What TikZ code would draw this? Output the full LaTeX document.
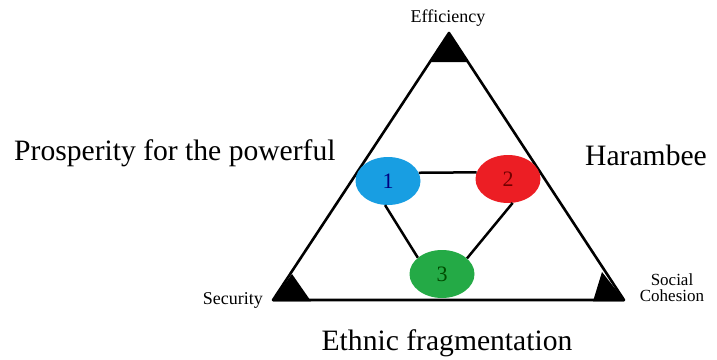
\documentclass[tikz,border=0pt]{standalone}
\usepackage{fontspec}
\setmainfont{Liberation Serif}
\usepackage{tikz}
\usetikzlibrary{shapes.geometric}
\definecolor{blobblue}{RGB}{24,158,226}
\definecolor{blobred}{RGB}{236,30,36}
\definecolor{blobgreen}{RGB}{36,170,70}

\begin{document}
\begin{tikzpicture}[x=1pt,y=-1pt,
  blob/.style={ellipse, minimum width=65pt, minimum height=48pt, inner sep=0pt, font=\fontsize{22}{24}\selectfont},
  corner/.style={font=\fontsize{18}{14}\selectfont, inner sep=0pt},
  big/.style={font=\fontsize{29.6}{32}\selectfont, inner sep=0pt}]
\useasboundingbox (0,0) rectangle (717,359);
% outer triangle
\coordinate (apex) at (449,33);
\coordinate (lft) at (273,300);
\coordinate (rgt) at (624,300);
\draw[line width=2.6pt, line join=round] (apex) -- (lft) -- (rgt) -- cycle;
\fill (apex) -- (430,62) -- (468,62) -- cycle;
\fill (lft) -- (292,274) -- (311,301.3) -- (273,301.3) -- cycle;
\fill (rgt) -- (602,272) -- (593,301.3) -- (624,301.3) -- cycle;
% labels at the corners
\node[corner, anchor=base] (eff) at (448,22) {Efficiency};
\node[corner, anchor=base east] (sec) at (263,304) {Security};
\node[corner, align=center, font=\fontsize{17}{16}\selectfont] (soc) at (672,288) {Social\\Cohesion};
% the three outcomes
\node[blob, fill=blobblue, text=blue!50!black] (one) at (388,181) {1};
\node[blob, fill=blobred, text=red!45!black] (two) at (508,179) {2};
\node[blob, fill=blobgreen, text=green!30!black] (three) at (442,274) {3};
\draw[line width=2.5pt] (one.15) -- (two.168);
\draw[line width=2.5pt] (one.-97) -- (three.146);
\draw[line width=2.5pt] (two.-79) -- (three.32);
\node[big, anchor=base west] (pros) at (14,160) {Prosperity for the powerful};
\node[big, anchor=base west] (har) at (585,165) {Harambee};
\node[big, anchor=base] (eth) at (447,350) {Ethnic fragmentation};
\end{tikzpicture}
\end{document}
